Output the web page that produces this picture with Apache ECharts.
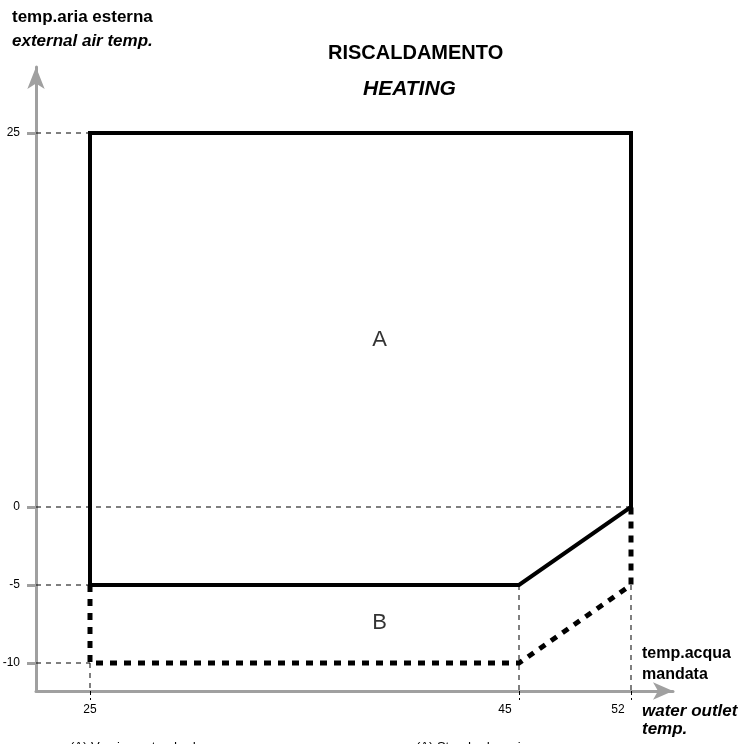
<!DOCTYPE html>
<html>
<head>
<meta charset="utf-8">
<script src="https://cdn.jsdelivr.net/npm/echarts@6/dist/echarts.min.js"></script>
<style>
html,body{margin:0;padding:0;background:#fff;}
#chart{width:741px;height:744px;}
</style>
</head>
<body>
<div id="chart"></div>
<script>
// ---- data (real units) ----
const xTicks = [25, 45, 52];          // water outlet temp. (°C)
const yTicks = [-10, -5, 0, 25];      // external air temp. (°C)
// operating envelope A (standard) - solid
const zoneA = [[25, -5], [25, 25], [52, 25], [52, 0], [45, -5], [25, -5]];
// extension B - dotted
const zoneB = [[25, -5], [25, -10], [45, -10], [52, -5], [52, 0]];
// dashed reference lines: horizontal [y, xEnd], vertical [x, yStart]
const guideH = [[25, 25], [0, 52], [-5, 25], [-10, 25]];
const guideV = [[25, -10], [45, -5], [52, -5]];
// zone labels [name, x, y]
const zoneLabels = [['A', 38.5, 11.2], ['B', 38.5, -7.4]];

// ---- layout: schematic (non-linear) axis placement ----
const xTickPos = [54, 483, 595];      // display units along x axis
const yTickPos = [28, 106, 184, 558]; // display units along y axis
const X_MAX = 637, Y_MAX = 624;

function piece(v, src, dst) {
  let i = 0;
  while (i < src.length - 2 && v > src[i + 1]) i++;
  return dst[i] + (v - src[i]) * (dst[i + 1] - dst[i]) / (src[i + 1] - src[i]);
}
const X = v => piece(v, xTicks, xTickPos);
const Y = v => piece(v, yTicks, yTickPos);
const P = p => [X(p[0]), Y(p[1])];
function back(v, pos, ticks) {
  for (let i = 0; i < pos.length; i++) if (Math.abs(pos[i] - v) < 0.5) return ticks[i];
  return '';
}

const FONT = 'Liberation Sans, Arial, sans-serif';
const guideStyle = { color: '#000', width: 1, type: [5, 5] };
const series = [];
guideH.forEach(g => series.push({
  type: 'line', data: [[0, Y(g[0])], [X(g[1]), Y(g[0])]], symbol: 'none',
  lineStyle: guideStyle, z: 1, silent: true
}));
guideV.forEach(g => series.push({
  type: 'line', data: [[X(g[0]), Y(g[1])], [X(g[0]), 0]], symbol: 'none',
  lineStyle: guideStyle, z: 1, silent: true
}));
series.push({
  name: 'A', type: 'line', data: zoneA.map(P), symbol: 'none', z: 3,
  lineStyle: { color: '#000', width: 4, join: 'miter', cap: 'square' }
});
series.push({
  name: 'B', type: 'line', data: zoneB.map(P), symbol: 'none', z: 2,
  lineStyle: { color: '#000', width: 5, type: [7, 7], join: 'miter' }
});
series.push({
  type: 'scatter', symbolSize: 0, z: 4,
  data: zoneLabels.map(l => ({ value: P([l[1], l[2]]), name: l[0] })),
  label: { show: true, position: 'inside', formatter: '{b}', color: '#000',
           fontSize: 22, fontFamily: FONT }
});

const chart = echarts.init(document.getElementById('chart'), null, { renderer: 'canvas' });
chart.setOption({
  animation: false,
  backgroundColor: '#fff',
  title: [
    { text: 'RISCALDAMENTO', left: 323, top: 38,
      textStyle: { fontSize: 20, fontWeight: 'bold', fontFamily: FONT, color: '#000' } },
    { text: 'HEATING', left: 358, top: 74,
      textStyle: { fontSize: 21, fontWeight: 'bold', fontStyle: 'italic', fontFamily: FONT, color: '#000' } }
  ],
  grid: { left: 36, top: 67, right: 68, bottom: 53, containLabel: false, outerBoundsMode: 'none' },
  xAxis: {
    type: 'value', min: 0, max: X_MAX,
    name: '{a|temp.acqua}\n{a|mandata}\n{s|}\n{b|water outlet}\n{b|temp.}',
    nameLocation: 'end', nameGap: -31,
    nameTextStyle: {
      align: 'left', verticalAlign: 'middle',
      rich: {
        a: { fontSize: 16, fontWeight: 'bold', fontFamily: FONT, color: '#000', lineHeight: 21 },
        s: { fontSize: 10, lineHeight: 17 },
        b: { fontSize: 17, fontWeight: 'bold', fontStyle: 'italic', fontFamily: FONT, color: '#000', lineHeight: 18 }
      }
    },
    axisLine: { show: true, symbol: ['none', 'arrow'], symbolSize: [13, 20],
                lineStyle: { color: '#a0a0a0', width: 3 } },
    axisTick: { show: true, customValues: xTickPos, length: 9,
                lineStyle: { color: '#000', width: 1, type: [4, 3] } },
    axisLabel: {
      customValues: xTickPos, margin: 13, fontSize: 12, fontFamily: FONT, color: '#000',
      formatter: v => {
        const t = back(v, xTickPos, xTicks);
        if (t === 45) return '{l|' + t + '}';
        if (t === 52) return '{m|' + t + '}';
        return String(t);
      },
      rich: {
        l: { fontSize: 12, fontFamily: FONT, color: '#000', padding: [0, 28, 0, 0] },
        m: { fontSize: 12, fontFamily: FONT, color: '#000', padding: [0, 26, 0, 0] }
      }
    },
    splitLine: { show: false }
  },
  yAxis: {
    type: 'value', min: 0, max: Y_MAX,
    name: '{a|temp.aria esterna}\n{b|external air temp.}',
    nameLocation: 'end', nameGap: 14,
    nameTextStyle: {
      align: 'left', verticalAlign: 'bottom', padding: [0, 0, 0, -24],
      rich: {
        a: { fontSize: 17, fontWeight: 'bold', fontFamily: FONT, color: '#000', lineHeight: 24 },
        b: { fontSize: 17, fontWeight: 'bold', fontStyle: 'italic', fontFamily: FONT, color: '#000', lineHeight: 24 }
      }
    },
    axisLine: { show: true, symbol: ['none', 'arrow'], symbolSize: [13, 22],
                lineStyle: { color: '#a0a0a0', width: 3 } },
    axisTick: { show: true, customValues: yTickPos, length: 9,
                lineStyle: { color: '#a0a0a0', width: 3 } },
    axisLabel: {
      customValues: yTickPos, margin: 16, fontSize: 12, fontFamily: FONT, color: '#000',
      formatter: v => String(back(v, yTickPos, yTicks))
    },
    splitLine: { show: false }
  },
  graphic: [
    { type: 'text', left: 70, top: 741,
      style: { text: '(A) Versione standard', fontSize: 13, fontFamily: FONT, fill: '#000' } },
    { type: 'text', left: 416, top: 741,
      style: { text: '(A) Standard version', fontSize: 13, fontFamily: FONT, fill: '#000' } }
  ],
  series: series
});
</script>
</body>
</html>
